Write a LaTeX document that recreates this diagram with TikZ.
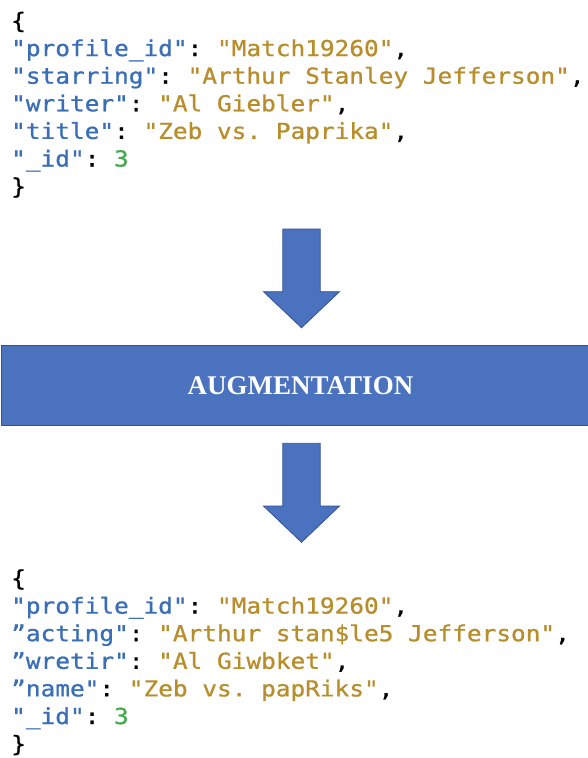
\documentclass[tikz,border=0pt]{standalone}
\usepackage{fontspec}
\setmainfont{Liberation Serif}
\newfontfamily\codefont[FakeBold=0.8]{DejaVu Sans Mono}
\definecolor{keyblue}{RGB}{58,110,182}
\definecolor{strgold}{RGB}{184,142,44}
\definecolor{numgreen}{RGB}{68,168,78}
\definecolor{augblue}{RGB}{74,114,190}
\definecolor{augedge}{RGB}{50,82,148}
\newcommand\jk[1]{\textcolor{keyblue}{#1}}
\newcommand\jv[1]{\textcolor{strgold}{#1}}
\newcommand\jn[1]{\textcolor{numgreen}{#1}}
\newcommand\cw[1]{\scalebox{1.11}[1]{#1}}
\begin{document}
\begin{tikzpicture}[x=1pt,y=-1pt,
  codeline/.style={anchor=base west, inner sep=0pt, font=\codefont\fontsize{22}{26}\selectfont\frenchspacing},
  blockfill/.style={fill=augblue, draw=augedge, line width=0.8pt},
  augtext/.style={text=white, font=\fontsize{27}{30}\selectfont\bfseries, inner sep=0pt}
]
\fill[white] (0,0) rectangle (587,758);
\useasboundingbox (0,0) rectangle (587,758);

% original record
\node[codeline] (a1) at (11,28.5) {\cw{\{}};
\node[codeline] (a2) at (11,56.1) {\cw{\jk{"profile\_id"}: \jv{"Match19260"},}};
\node[codeline] (a3) at (11,83.7) {\cw{\jk{"starring"}: \jv{"Arthur Stanley Jefferson"},}};
\node[codeline] (a4) at (11,111.3) {\cw{\jk{"writer"}: \jv{"Al Giebler"},}};
\node[codeline] (a5) at (11,138.9) {\cw{\jk{"title"}: \jv{"Zeb vs. Paprika"},}};
\node[codeline] (a6) at (11,166.5) {\cw{\jk{"\_id"}: \jn{3}}};
\node[codeline] (a7) at (11,194.1) {\cw{\}}};

% arrow 1
\fill[blockfill] (282.8,229) -- (320.2,229) -- (320.2,291.7) -- (339.5,291.7)
  -- (301.5,327.7) -- (263.5,291.7) -- (282.8,291.7) -- cycle;

% augmentation band
\draw[blockfill] (1.5,345.7) rectangle (599.5,425.7);
\node[augtext] (aug) at (300.5,385.7) {AUGMENTATION};

% arrow 2
\fill[blockfill] (282.8,443.3) -- (320.2,443.3) -- (320.2,506) -- (339.5,506)
  -- (301.5,542.3) -- (263.5,506) -- (282.8,506) -- cycle;

% augmented record
\node[codeline] (b1) at (11,586) {\cw{\{}};
\node[codeline] (b2) at (11,613.6) {\cw{\jk{"profile\_id"}: \jv{"Match19260"},}};
\node[codeline] (b3) at (11,641.2) {\cw{\jk{”acting"}: \jv{"Arthur stan\$le5 Jefferson"},}};
\node[codeline] (b4) at (11,668.8) {\cw{\jk{”wretir"}: \jv{"Al Giwbket"},}};
\node[codeline] (b5) at (11,696.4) {\cw{\jk{”name"}: \jv{"Zeb vs. papRiks"},}};
\node[codeline] (b6) at (11,724) {\cw{\jk{"\_id"}: \jn{3}}};
\node[codeline] (b7) at (11,751.6) {\cw{\}}};
\end{tikzpicture}
\end{document}
